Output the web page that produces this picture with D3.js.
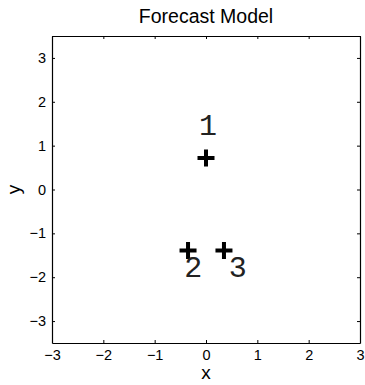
<!DOCTYPE html>
<html>
<head>
<meta charset="utf-8">
<script src="https://cdn.jsdelivr.net/npm/d3@7"></script>
<style>
  body { margin: 0; background: #fff; }
  svg { display: block; }
  text { font-family: "Liberation Sans", Arial, sans-serif; fill: #000; }
</style>
</head>
<body>
<div class="chart"></div>
<script>
// Chart data
const pointIds = ['1', '2', '3'];
const pointX = [0, -0.35, 0.35];
const pointY = [0.72, -1.39, -1.39];
// label anchors (data units)
const labelX = [0.04, -0.25, 0.62];
const labelY = [1.42, -1.82, -1.82];
const xTicks = [-3, -2, -1, 0, 1, 2, 3];
const yTicks = [-3, -2, -1, 0, 1, 2, 3];

const width = 365, height = 385;
const margin = { top: 36, right: 5, bottom: 42, left: 52 };

const svg = d3.select('.chart').append('svg')
    .attr('width', width)
    .attr('height', height);

const xScale = d3.scaleLinear().domain([-3, 3]).range([margin.left, width - margin.right]);
const yScale = d3.scaleLinear().domain([-3.5, 3.5]).range([height - margin.bottom, margin.top]);

const fmt = d3.format('d');

// Axes, ticks pointing inward on all four sides
svg.append('g').attr('transform', `translate(0,${height - margin.bottom})`)
    .call(d3.axisBottom(xScale).tickValues(xTicks).tickFormat(fmt).tickSizeInner(-3).tickSizeOuter(0).tickPadding(7))
    .call(g => g.selectAll('text').style('font-size', '14.5px'));
svg.append('g').attr('transform', `translate(0,${margin.top})`)
    .call(d3.axisTop(xScale).tickValues(xTicks).tickFormat('').tickSizeInner(-3).tickSizeOuter(0));
svg.append('g').attr('transform', `translate(${margin.left},0)`)
    .call(d3.axisLeft(yScale).tickValues(yTicks).tickFormat(fmt).tickSizeInner(-3).tickSizeOuter(0).tickPadding(6))
    .call(g => g.selectAll('text').style('font-size', '14.5px'));
svg.append('g').attr('transform', `translate(${width - margin.right},0)`)
    .call(d3.axisRight(yScale).tickValues(yTicks).tickFormat('').tickSizeInner(-3).tickSizeOuter(0));

svg.selectAll('.domain').attr('stroke', '#000').attr('stroke-width', 1.2);
svg.selectAll('.tick line').attr('stroke', '#000');

// Markers
svg.selectAll('.pt')
    .data(pointIds)
    .join('path')
    .attr('class', 'pt')
    .attr('transform', (d, i) => `translate(${xScale(pointX[i])},${yScale(pointY[i])})`)
    .attr('d', 'M-8.5,0H8.5M0,-8.5V8.5')
    .attr('stroke', '#000')
    .attr('stroke-width', 4)
    .attr('fill', 'none');

// Point labels
svg.selectAll('.lbl')
    .data(pointIds)
    .join('text')
    .attr('class', 'lbl')
    .attr('x', (d, i) => xScale(labelX[i]))
    .attr('y', (d, i) => yScale(labelY[i]))
    .attr('text-anchor', 'middle')
    .attr('dominant-baseline', 'central')
    .style('font-family', '"Liberation Mono", "Courier New", monospace')
    .style('font-size', '30px')
    .style('fill', '#222')
    .text(d => d);

// Title and axis labels
svg.append('text').attr('x', xScale(0)).attr('y', 23)
    .attr('text-anchor', 'middle').style('font-size', '19.5px').text('Forecast Model');
svg.append('text').attr('x', xScale(0)).attr('y', 379)
    .attr('text-anchor', 'middle').style('font-size', '19px').text('x');
svg.append('text').attr('transform', `translate(20,${yScale(0)}) rotate(-90)`)
    .attr('text-anchor', 'middle').style('font-size', '19px').text('y');
</script>
</body>
</html>
